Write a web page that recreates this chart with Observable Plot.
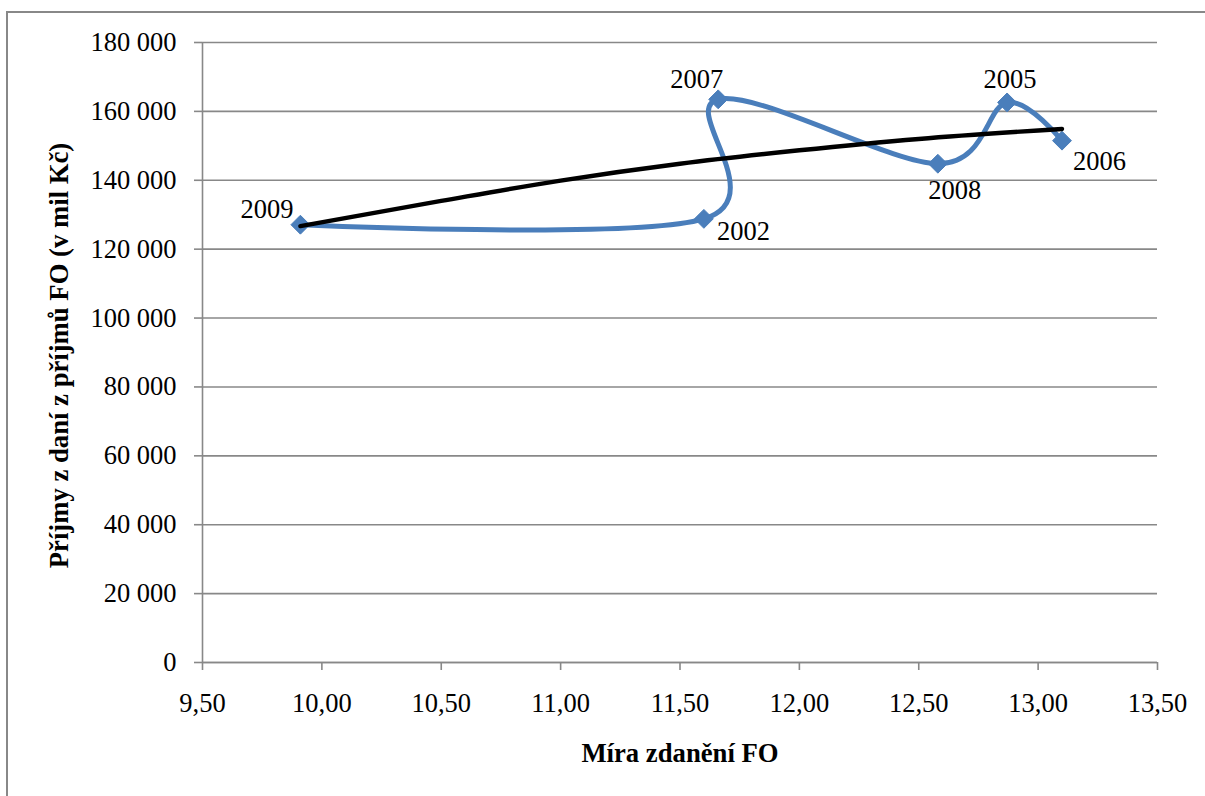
<!DOCTYPE html>
<html>
<head>
<meta charset="utf-8">
<script src="https://cdn.jsdelivr.net/npm/d3@7"></script>
<script src="https://cdn.jsdelivr.net/npm/@observablehq/plot@0.6"></script>
<style>
  html, body { margin: 0; padding: 0; background: #fff; }
  #chart { width: 1205px; height: 796px; overflow: hidden; }
  #chart svg, #chart svg text { font-family: "Liberation Serif", "Times New Roman", Times, serif !important; }
</style>
</head>
<body>
<div id="chart"></div>
<script>
// ---- data ----
const years = ["2009", "2002", "2007", "2008", "2005", "2006"];
const rate = [9.91, 11.60, 11.66, 12.58, 12.87, 13.10];          // Míra zdanění FO
const revenue = [127100, 128800, 163500, 144800, 162600, 151500]; // Příjmy (mil Kč)

// black trend line
const trendRate = [9.91, 10.5, 11.0, 11.5, 12.0, 12.5, 13.1];
const trendRevenue = [126700, 134000, 139900, 144800, 148700, 152000, 154900];

const xTicks = [9.5, 10, 10.5, 11, 11.5, 12, 12.5, 13, 13.5];
const yTicks = [0, 20000, 40000, 60000, 80000, 100000, 120000, 140000, 160000, 180000];

const xTitle = "Míra zdanění FO";
const yTitle = "Příjmy z daní z příjmů FO (v mil Kč)";

// ---- tables built from the arrays ----
const points = years.map((y, i) => ({year: y, rate: rate[i], revenue: revenue[i]}));
const trend = trendRate.map((r, i) => ({rate: r, revenue: trendRevenue[i]}));

// ---- styles ----
const FONT = "Liberation Serif, Times New Roman, serif";
const FS = 26.5;
const GRID = "#888888";
const BLUE = "#4A7EBB";
const labelStyle = {
  "2009": {textAnchor: "end", dx: -7, dy: -15},
  "2002": {textAnchor: "start", dx: 13, dy: 13},
  "2007": {textAnchor: "end", dx: 5, dy: -20},
  "2008": {textAnchor: "middle", dx: 17, dy: 27},
  "2005": {textAnchor: "middle", dx: 3, dy: -23},
  "2006": {textAnchor: "start", dx: 11, dy: 21}
};

const loc = d3.formatLocale({decimal: ",", thousands: " ", grouping: [3], currency: ["", ""]});
const fmtY = loc.format(",d");
const fmtX = loc.format(".2f");

const plot = Plot.plot({
  width: 1205,
  height: 796,
  marginLeft: 202,
  marginRight: 48,
  marginTop: 42,
  marginBottom: 134,
  x: {domain: [9.5, 13.5]},
  y: {domain: [0, 180000]},
  style: {fontFamily: FONT, fontSize: FS + "px", background: "#fff", color: "#000", overflow: "visible"},
  marks: [
    Plot.gridY(yTicks, {stroke: GRID, strokeOpacity: 1, strokeWidth: 1.6}),
    Plot.ruleX([9.5], {stroke: GRID, strokeWidth: 1.6}),
    Plot.ruleY([0], {stroke: GRID, strokeWidth: 1.6}),
    Plot.axisY(yTicks, {tickSize: 8, tickPadding: 18, tickFormat: fmtY, fontSize: FS, fontFamily: FONT, stroke: GRID, strokeWidth: 1.6, label: null}),
    Plot.axisX(xTicks, {tickSize: 8, tickPadding: 23, tickFormat: fmtX, fontSize: FS, fontFamily: FONT, stroke: GRID, strokeWidth: 1.6, label: null}),
    Plot.line(points, {x: "rate", y: "revenue", stroke: BLUE, strokeWidth: 5, curve: "cardinal"}),
    Plot.dot(points, {x: "rate", y: "revenue", symbol: "diamond2", r: 8.5, fill: BLUE, stroke: BLUE, strokeWidth: 1}),
    Plot.line(trend, {x: "rate", y: "revenue", stroke: "#000", strokeWidth: 4.4, curve: "monotone-x"}),
    ...points.map(p => Plot.text([p], {
      x: "rate", y: "revenue", text: "year", fontSize: FS, fontFamily: FONT, fill: "#000",
      ...labelStyle[p.year]
    })),
    Plot.text([xTitle], {frameAnchor: "bottom", text: d => d, textAnchor: "middle", lineAnchor: "middle", dy: 91, fontSize: 26.7, fontFamily: FONT, fontWeight: "bold", fill: "#000"}),
    Plot.text([yTitle], {frameAnchor: "left", text: d => d, textAnchor: "middle", lineAnchor: "middle", rotate: -90, dx: -143, dy: 3, fontSize: 26.7, fontFamily: FONT, fontWeight: "bold", fill: "#000"})
  ]
});

// outer chart-area border (top and left edges visible in the reference)
d3.select(plot).append("path")
  .attr("d", "M1210,12H7V800")
  .attr("fill", "none")
  .attr("stroke", "#888888")
  .attr("stroke-width", 2);

document.getElementById("chart").appendChild(plot);
</script>
</body>
</html>
